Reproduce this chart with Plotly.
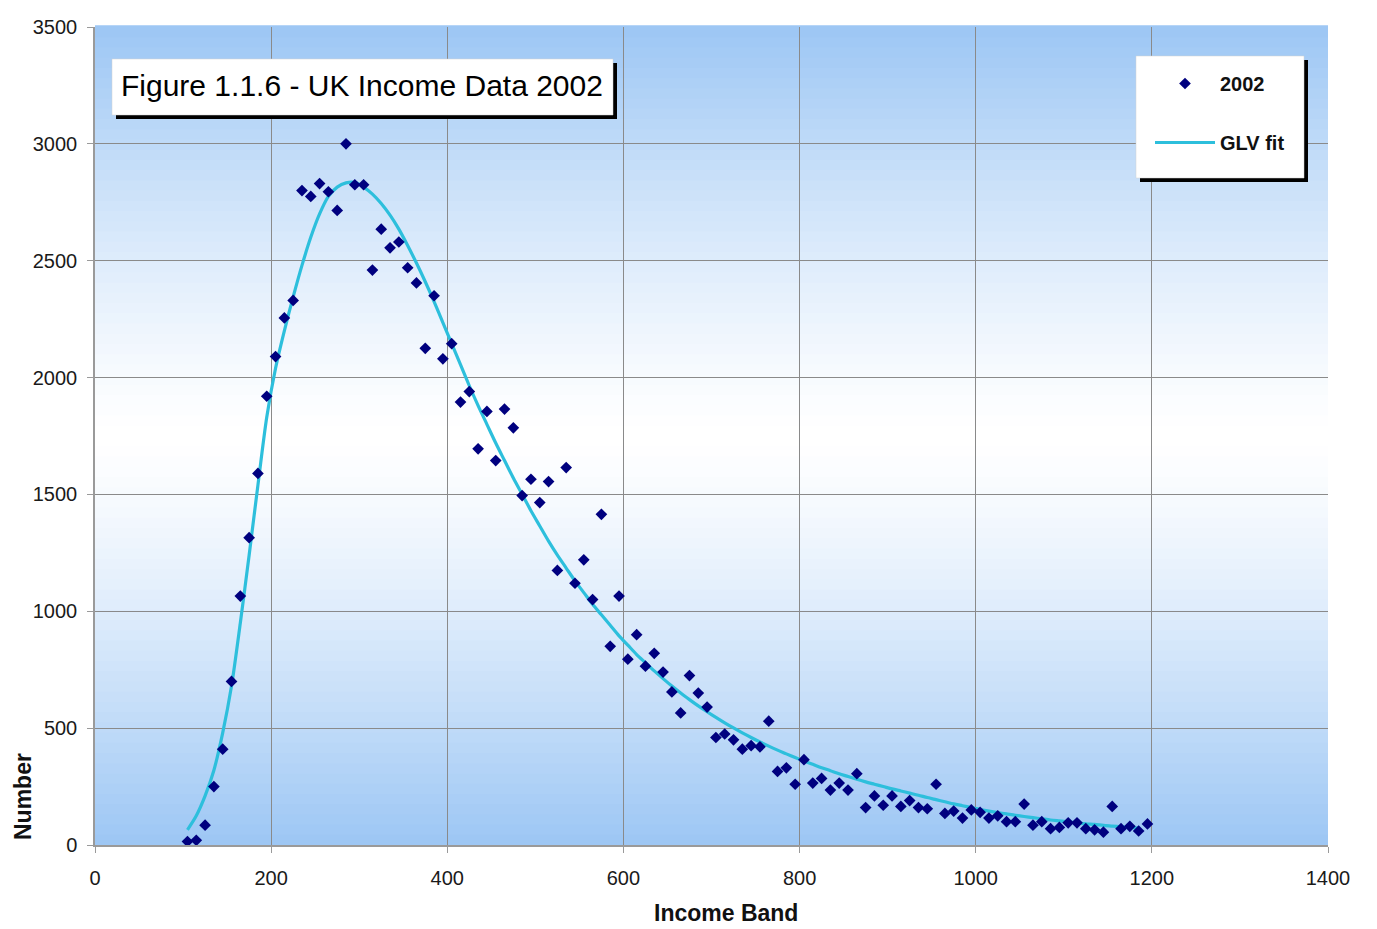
import plotly.graph_objects as go

# ---------------- data ----------------
income_band = list(range(105, 1196, 10))
number_2002 = [15, 20, 85, 250, 410, 700, 1065, 1315, 1590, 1920,
               2090, 2255, 2330, 2800, 2775, 2830, 2795, 2715, 3000, 2825,
               2825, 2460, 2635, 2555, 2580, 2470, 2405, 2125, 2350, 2080,
               2145, 1895, 1940, 1695, 1855, 1645, 1865, 1785, 1495, 1565,
               1465, 1555, 1175, 1615, 1120, 1220, 1050, 1415, 850, 1065,
               795, 900, 765, 820, 740, 655, 565, 725, 650, 590,
               460, 475, 450, 410, 425, 420, 530, 315, 330, 260,
               365, 265, 285, 235, 265, 235, 305, 160, 210, 170,
               210, 165, 190, 160, 155, 260, 135, 145, 115, 150,
               140, 115, 125, 100, 100, 175, 85, 100, 70, 75,
               95, 95, 70, 65, 55, 165, 70, 80, 60, 90]

fit_band = list(range(105, 1186, 10))
glv_fit = [65, 125, 210, 320, 480, 680, 950, 1240, 1540, 1830,
           2040, 2200, 2345, 2480, 2600, 2700, 2775, 2815, 2833, 2835,
           2815, 2785, 2745, 2695, 2635, 2565, 2490, 2410, 2325, 2235,
           2145, 2055, 1965, 1880, 1800, 1720, 1645, 1570, 1500, 1430,
           1365, 1300, 1240, 1185, 1130, 1080, 1030, 985, 940, 895,
           855, 815, 780, 745, 712, 680, 650, 622, 595, 570,
           546, 523, 501, 480, 460, 441, 423, 406, 390, 374,
           359, 345, 331, 318, 305, 293, 281, 270, 260, 250,
           240, 231, 222, 213, 203, 194, 185, 176, 168, 160,
           152, 145, 139, 133, 127, 122, 117, 112, 107, 103,
           99, 95, 91, 88, 84, 81, 78, 75, 72]

x_ticks = [0, 200, 400, 600, 800, 1000, 1200, 1400]
y_ticks = [0, 500, 1000, 1500, 2000, 2500, 3000, 3500]

title_text = "Figure 1.1.6 - UK Income Data 2002"
series_name = "2002"
fit_name = "GLV fit"

# ---------------- layout geometry (page pixels) ----------------
W, H = 1377, 929
OFF = 8  # default body margin of the page
L, R, T, B = 95, 1328, 27, 845
PW, PH = R - L, B - T

def px(xp):
    return (xp - L) / PW

def py(yp):
    return (B - yp) / PH

FONT = "Liberation Sans, Arial, sans-serif"

fig = go.Figure()

fig.add_trace(go.Scatter(
    x=fit_band, y=glv_fit, mode="lines", name=fit_name,
    line=dict(color="#2DBFDC", width=3.2, shape="spline", smoothing=0.8),
    legendgroup="b", legendrank=2,
))
fig.add_trace(go.Scatter(
    x=income_band, y=number_2002, mode="markers", name=series_name,
    marker=dict(symbol="diamond", size=9, color="#00007F"),
    legendgroup="a", legendrank=1,
))

shapes = []
# gradient background: blue edges, white centre
edge = (156, 198, 244)
white = (255, 255, 255)
N = 80
for i in range(N):
    t0 = i / N
    t1 = (i + 1) / N
    tm = (t0 + t1) / 2
    d = abs(tm - 0.5) * 2
    f = d ** 1.3
    c = tuple(int(round(white[k] + (edge[k] - white[k]) * f)) for k in range(3))
    shapes.append(dict(type="rect", xref="paper", yref="paper",
                       x0=0, x1=1, y0=t0, y1=t1 + 0.002,
                       fillcolor="rgb(%d,%d,%d)" % c, line=dict(width=0),
                       layer="below"))

# title box shadow + box
shapes.append(dict(type="rect", xref="paper", yref="paper",
                   x0=px(116), x1=px(617), y0=py(119), y1=py(63),
                   fillcolor="black", line=dict(width=0), layer="above"))
shapes.append(dict(type="rect", xref="paper", yref="paper",
                   x0=px(112), x1=px(613), y0=py(115), y1=py(59),
                   fillcolor="white", line=dict(width=0.5, color="#d0d0d0"), layer="above"))
# legend box shadow + box
shapes.append(dict(type="rect", xref="paper", yref="paper",
                   x0=px(1140), x1=px(1308), y0=py(182), y1=py(60),
                   fillcolor="black", line=dict(width=0), layer="above"))
shapes.append(dict(type="rect", xref="paper", yref="paper",
                   x0=px(1136), x1=px(1304), y0=py(178), y1=py(56),
                   fillcolor="white", line=dict(width=0.5, color="#d0d0d0"), layer="above"))

annotations = [
    dict(text=title_text, xref="paper", yref="paper", x=px(362), y=py(85),
         xanchor="center", yanchor="middle", showarrow=False,
         font=dict(family=FONT, size=30, color="black")),
    dict(text="<b>Income Band</b>", xref="paper", yref="paper", x=px(726), y=py(913),
         xanchor="center", yanchor="middle", showarrow=False,
         font=dict(family=FONT, size=23, color="#111111")),
    dict(text="<b>Number</b>", xref="paper", yref="paper", x=px(23), y=py(797),
         xanchor="center", yanchor="middle", showarrow=False, textangle=-90,
         font=dict(family=FONT, size=23, color="#111111")),
]

axis_common = dict(
    showgrid=True, gridcolor="#8a8a8a", gridwidth=1,
    showline=True, linecolor="#9a9a9a", linewidth=1.5,
    ticks="outside", ticklen=6, tickcolor="#9a9a9a",
    tickfont=dict(family=FONT, size=20, color="#1a1a1a"),
    zeroline=False, fixedrange=True, automargin=False,
)

fig.update_layout(
    width=W - OFF, height=H - OFF,
    margin=dict(l=L - OFF, r=W - R, t=T - OFF, b=H - B, autoexpand=False),
    paper_bgcolor="white", plot_bgcolor="rgba(0,0,0,0)",
    xaxis=dict(range=[0, 1400], tickvals=x_ticks, ticktext=[str(v) for v in x_ticks],
               ticklabelstandoff=8, **axis_common),
    yaxis=dict(range=[0, 3500], tickvals=y_ticks, ticktext=[str(v) for v in y_ticks],
               ticklabelstandoff=6, **axis_common),
    shapes=shapes, annotations=annotations,
    showlegend=True,
    legend=dict(x=px(1150), y=py(64), xanchor="left", yanchor="top",
                bgcolor="rgba(0,0,0,0)", borderwidth=0,
                font=dict(family=FONT, size=20, color="#111111", weight="bold"),
                tracegroupgap=30, itemwidth=60, traceorder="grouped"),
)

fig.write_html("out.html")
